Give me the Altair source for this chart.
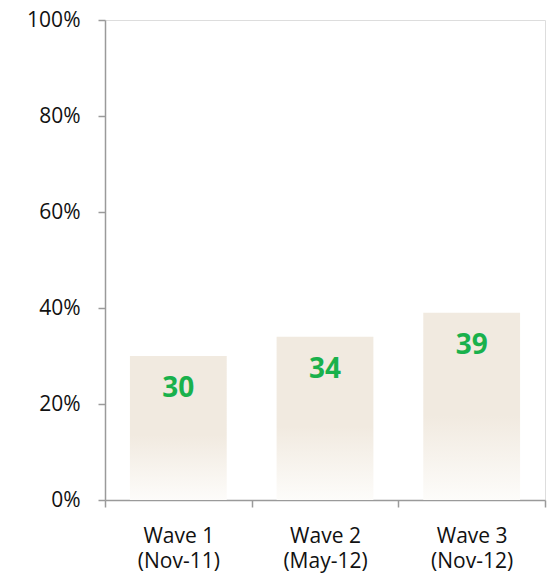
import altair as alt
import pandas as pd

# Survey waves and share of respondents (%)
waves = ["Wave 1\n(Nov-11)", "Wave 2\n(May-12)", "Wave 3\n(Nov-12)"]
shares = [30, 34, 39]

df = pd.DataFrame({"wave": waves, "share": shares})

FONT = "Open Sans"
AXIS_GREY = "#9a9a9a"

x_enc = alt.X(
    "wave:N",
    sort=waves,
    title=None,
    scale=alt.Scale(paddingInner=0, paddingOuter=0),
    axis=alt.Axis(
        labelAngle=0,
        labelExpr="datum.value ? split(datum.value, '\\n') : ''",
        labelFont=FONT,
        labelFontSize=21,
        labelColor="#111111",
        labelLineHeight=25,
        labelPadding=18,
        tickBand="extent",
        tickSize=7,
        tickColor=AXIS_GREY,
        tickWidth=1.5,
        domainColor=AXIS_GREY,
        domainWidth=1.5,
        grid=False,
    ),
)

y_enc = alt.Y(
    "share:Q",
    title=None,
    scale=alt.Scale(domain=[0, 100], nice=False),
    axis=alt.Axis(
        values=[0, 20, 40, 60, 80, 100],
        labelExpr="datum.value + '%'",
        labelFont=FONT,
        labelFontSize=21,
        labelColor="#111111",
        labelPadding=18,
        tickSize=7,
        tickColor=AXIS_GREY,
        tickWidth=1.5,
        domainColor=AXIS_GREY,
        domainWidth=1.5,
        grid=False,
    ),
)

fade = alt.Gradient(
    gradient="linear",
    x1=0, x2=0, y1=0, y2=1,
    stops=[
        alt.GradientStop(color="#F1EAE0", offset=0),
        alt.GradientStop(color="#F1EAE0", offset=0.55),
        alt.GradientStop(color="#FDFCFA", offset=1),
    ],
)

bars = alt.Chart(df).mark_bar(
    fill=fade, width=alt.RelativeBandSize(0.66)
).encode(x=x_enc, y=y_enc)

labels = alt.Chart(df).mark_text(
    font=FONT, fontSize=28, fontWeight="bold", color="#19B14C",
    baseline="middle", dy=33,
).encode(x=alt.X("wave:N", sort=waves), y="share:Q", text="share:Q")

chart = (
    alt.layer(bars, labels)
    .properties(
        width=440,
        height=480,
        autosize=alt.AutoSizeParams(type="none"),
        padding={"left": 105, "top": 20, "right": 5, "bottom": 80},
    )
    .configure_view(stroke=None)
    .configure(background="white")
)

chart.save("out.html", embed_options={"renderer": "svg", "actions": False})
